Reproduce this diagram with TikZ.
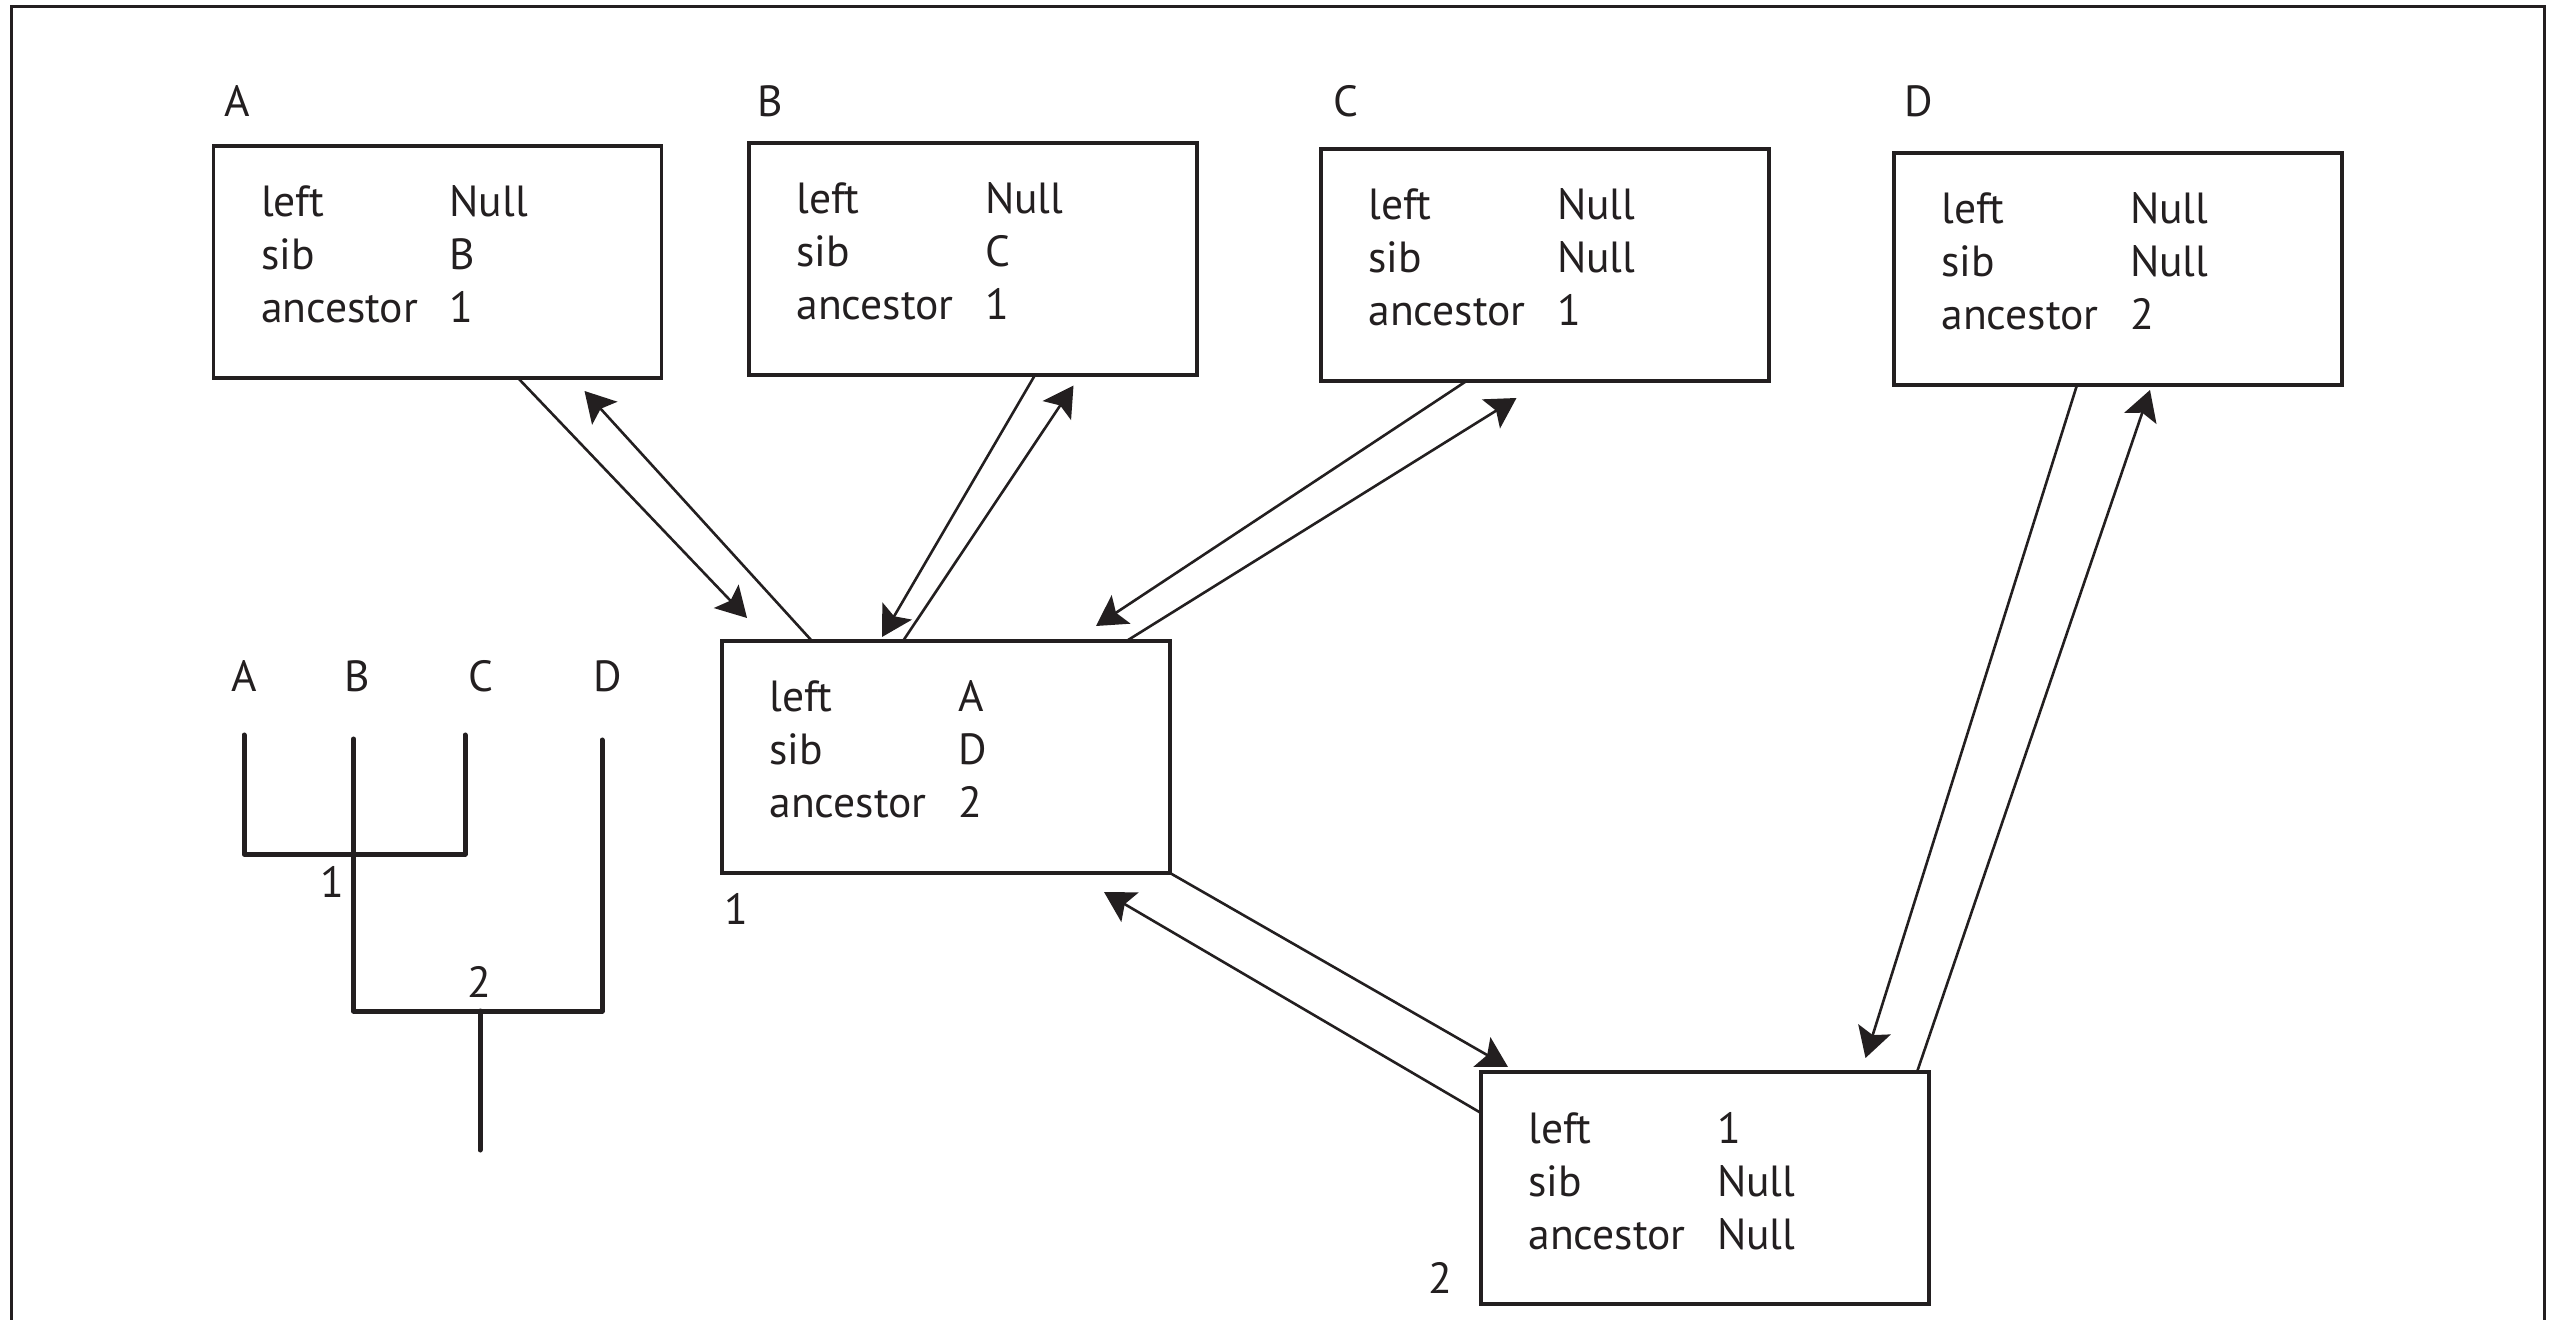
\documentclass[tikz,border=0pt]{standalone}
\usepackage{fontspec}
\setmainfont{PT Sans}
\usetikzlibrary{calc,arrows.meta}
\definecolor{ink}{RGB}{35,31,32}

% one record: name, x, y of top-left corner, then the three field values
\newcommand\recnode[6]{%
  \node[recbox] (#1) at (#2,#3) {};
  \node[field] (#1-k1) at ($(#1.north west)+(47.5,71)$)  {left};
  \node[field] (#1-v1) at ($(#1.north west)+(236,71)$) {#4};
  \node[field] (#1-k2) at ($(#1.north west)+(47.5,124)$) {sib};
  \node[field] (#1-v2) at ($(#1.north west)+(236,124)$) {#5};
  \node[field] (#1-k3) at ($(#1.north west)+(47.5,177)$) {ancestor};
  \node[field] (#1-v3) at ($(#1.north west)+(236,177)$) {#6};
}

\begin{document}
\begin{tikzpicture}[x=0.5pt,y=-0.5pt,
  recbox/.style={draw=ink, line width=1.75pt, minimum width=224pt,
    minimum height=116pt, inner sep=0pt, outer sep=0pt, anchor=north west},
  field/.style={anchor=base west, inner sep=0pt, outer sep=0pt, text=ink,
    font=\fontsize{21.8pt}{24pt}\selectfont},
  tag/.style={field},
  ctag/.style={field, anchor=base},
  link/.style={draw=ink, line width=1.3pt,
    -{Stealth[length=15pt,width=17pt,inset=3pt]}},
  tree/.style={draw=ink, line width=2.5pt, line cap=round, line join=round}]

\useasboundingbox (0,0) rectangle (2561,1320);
\clip (0,0) rectangle (2561,1320);

% frame
\draw[ink, line width=1.5pt] (11,7) rectangle (2544,1340);

% records
\recnode{nA}{213.5}{146}{Null}{B}{1}
\recnode{nB}{749}{143}{Null}{C}{1}
\recnode{nC}{1321}{149}{Null}{Null}{1}
\recnode{nD}{1894}{153}{Null}{Null}{2}
\recnode{n1}{722}{641}{A}{D}{2}
\recnode{n2}{1481}{1072}{1}{Null}{Null}

% record names
\node[tag] (tA) at (224,117) {A};
\node[tag] (tB) at (757,117) {B};
\node[tag] (tC) at (1333,117) {C};
\node[tag] (tD) at (1904,117) {D};
\node[tag] (t1) at (724,924) {1};
\node[tag, anchor=base east] (t2) at (1452,1293) {2};

% pointers between records
\draw[link] ($(nA.south west)+(304.5,0)$) -- ($(n1.north west)+(25,-23)$);
\draw[link] ($(n1.north west)+(90,0)$) -- ($(nA.south west)+(371,13)$);

\draw[link] ($(nB.south west)+(286,0)$) -- ($(n1.north west)+(160,-4)$);
\draw[link] ($(n1.north west)+(181,0)$) -- ($(nB.south west)+(324.5,10.5)$);

\draw[link] ($(nC.south west)+(145.5,0)$) -- ($(n1.north west)+(374,-15)$);
\draw[link] ($(n1.north west)+(404.5,0)$) -- ($(nC.south west)+(195.5,17)$);

\draw[link] (n1.south east) -- ($(n2.north west)+(27,-5)$);
\draw[link] ($(n2.north west)+(0,41)$) -- ($(n1.south east)+(-66,19)$);

\draw[link] ($(nD.south west)+(183,0)$) -- ($(n2.north west)+(384.5,-14)$);
\draw[link] ($(n2.north west)+(436,0)$) -- ($(nD.south west)+(256,5)$);

% the tree itself
\node[ctag] (lA) at (244,692) {A};
\node[ctag] (lB) at (357,692) {B};
\node[ctag] (lC) at (481,692) {C};
\node[ctag] (lD) at (608,692) {D};
\node[ctag] (l1) at (332,897) {1};
\node[ctag] (l2) at (479,997) {2};

\draw[tree] (244,735) -- (244,854) -- (465,854) -- (465,735);
\draw[tree] (353.5,739) -- (353.5,1011) -- (602,1011) -- (602,740);
\draw[tree] (480,1011) -- (480,1150);
\end{tikzpicture}
\end{document}
